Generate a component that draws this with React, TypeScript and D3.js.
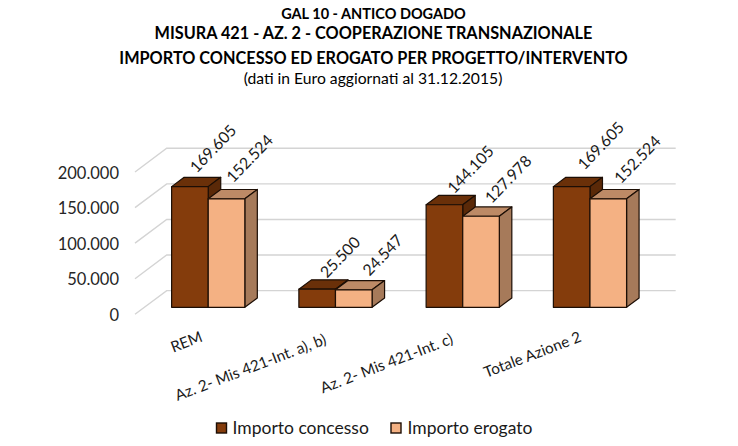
import React from "react";
import * as d3 from "d3";

const categories = ["REM", "Az. 2- Mis 421-Int. a), b)", "Az. 2- Mis 421-Int. c)", "Totale Azione 2"];
const concesso = [169605, 25500, 144105, 169605];
const erogato = [152524, 24547, 127978, 152524];
const yTicks = [0, 50000, 100000, 150000, 200000];
const seriesNames = ["Importo concesso", "Importo erogato"];
const titles = [
  "GAL 10 - ANTICO DOGADO",
  "MISURA 421 - AZ. 2 - COOPERAZIONE TRANSNAZIONALE",
  "IMPORTO CONCESSO ED EROGATO PER PROGETTO/INTERVENTO",
];
const subtitle = "(dati in Euro aggiornati al 31.12.2015)";

const FONT = "Lato, 'Open Sans', sans-serif";
const fmt = d3.formatLocale({ decimal: ",", thousands: ".", grouping: [3], currency: ["€", ""] }).format(",d");

const W = 738, H = 446;
const x = d3.scaleBand<number>().domain([0, 1, 2, 3]).range([135, 644]).paddingInner(0).paddingOuter(0);
const y = d3.scaleLinear().domain([0, 200000]).range([314.3, 172]);
const FLOOR_DX = 31.7, FLOOR_DY = -23.7;
const BAR_OFF_X = 9.6, BAR_OFF_Y = -7;
const BAR_W = 36.6, DEPTH_X = 12.5, DEPTH_Y = -9.3;
const OUT = "#1c0e05";

// label nudges (px), per group
const labelDxC = [25, 28, 28, 31];
const labelDxE = [25, 34, 29, 31];
const labelDyC = [-13, -10.3, -10.3, -16];
const labelDyE = [-15.3, -13, -12, -14.3];
const catDx = [5, 1.5, 1, 2];
const catY = [341, 343.5, 343, 341];

const shades = [
  { front: "#843C0C", top: "#6A3009", side: "#5A2908" },
  { front: "#F4B183", top: "#BD8A66", side: "#A67A5A" },
];

const poly = (p: number[][]) => d3.line()(p as [number, number][]) + "Z";

function Bar({ x0, v, s }: { x0: number; v: number; s: number }) {
  const b = y(0) + BAR_OFF_Y;
  const t = y(v) + BAR_OFF_Y;
  const x1 = x0 + BAR_W;
  const c = shades[s];
  return (
    <g stroke={OUT} strokeWidth={1.2} strokeLinejoin="round">
      <path d={poly([[x0, t], [x1, t], [x1 + DEPTH_X, t + DEPTH_Y], [x0 + DEPTH_X, t + DEPTH_Y]])} fill={c.top} />
      <path d={poly([[x1, t], [x1 + DEPTH_X, t + DEPTH_Y], [x1 + DEPTH_X, b + DEPTH_Y], [x1, b]])} fill={c.side} />
      <path d={poly([[x0, t], [x1, t], [x1, b], [x0, b]])} fill={c.front} />
    </g>
  );
}

export default function App() {
  const groups = categories.map((_, i) => {
    const cx = x(i)! + x.bandwidth() / 2 + BAR_OFF_X;
    return { i, a: cx - BAR_W, b: cx };
  });
  return (
    <svg width={W} height={H} viewBox={`0 0 ${W} ${H}`} style={{ position: "absolute", left: 0, top: 0, fontFamily: FONT }}>
      <rect width={W} height={H} fill="#fff" />
      {titles.map((t, i) => (
        <text key={t} x={373.5} y={[18.5, 38.5, 63.5][i]} textAnchor="middle" fontWeight={700} fontSize={i === 0 ? 14.5 : 16.27} fill="#000">{t}</text>
      ))}
      <text x={373} y={84} textAnchor="middle" fontSize={15.7} fill="#000">{subtitle}</text>

      {yTicks.map((t) => (
        <path key={t} fill="none" stroke="#d4d4d4" strokeWidth={1.4}
          d={d3.line()([[135, y(t)], [135 + FLOOR_DX, y(t) + FLOOR_DY], [644 + FLOOR_DX, y(t) + FLOOR_DY]])!} />
      ))}
      {yTicks.map((t) => (
        <text key={t} x={119} y={y(t) + 6.5} textAnchor="end" fontSize={16.5} fill="#262626">{t === 0 ? "0" : fmt(t)}</text>
      ))}

      {groups.map((g) => (
        <g key={g.i}>
          <Bar x0={g.a} v={concesso[g.i]} s={0} />
          <Bar x0={g.b} v={erogato[g.i]} s={1} />
        </g>
      ))}

      {groups.map((g) => (
        <g key={g.i} fontSize={15.8} fill="#1a1a1a">
          <text transform={`translate(${g.a + labelDxC[g.i]},${y(concesso[g.i]) + BAR_OFF_Y + labelDyC[g.i]}) rotate(-46)`}>{fmt(concesso[g.i])}</text>
          <text transform={`translate(${g.b + labelDxE[g.i]},${y(erogato[g.i]) + BAR_OFF_Y + labelDyE[g.i]}) rotate(-46)`}>{fmt(erogato[g.i])}</text>
        </g>
      ))}

      {categories.map((c, i) => (
        <text key={c} transform={`translate(${x(i)! + x.bandwidth() / 2 + catDx[i]},${catY[i]}) rotate(-21)`} textAnchor="end" fontSize={15.3} fill="#1a1a1a">{c}</text>
      ))}

      {seriesNames.map((n, i) => (
        <g key={n}>
          <rect x={[216.5, 391][i]} y={423} width={10} height={10} fill={shades[i].front} stroke={OUT} strokeWidth={1.4} />
          <text x={[232.5, 407.5][i]} y={433.5} fontSize={17.5} fill="#1a1a1a">{n}</text>
        </g>
      ))}
    </svg>
  );
}
